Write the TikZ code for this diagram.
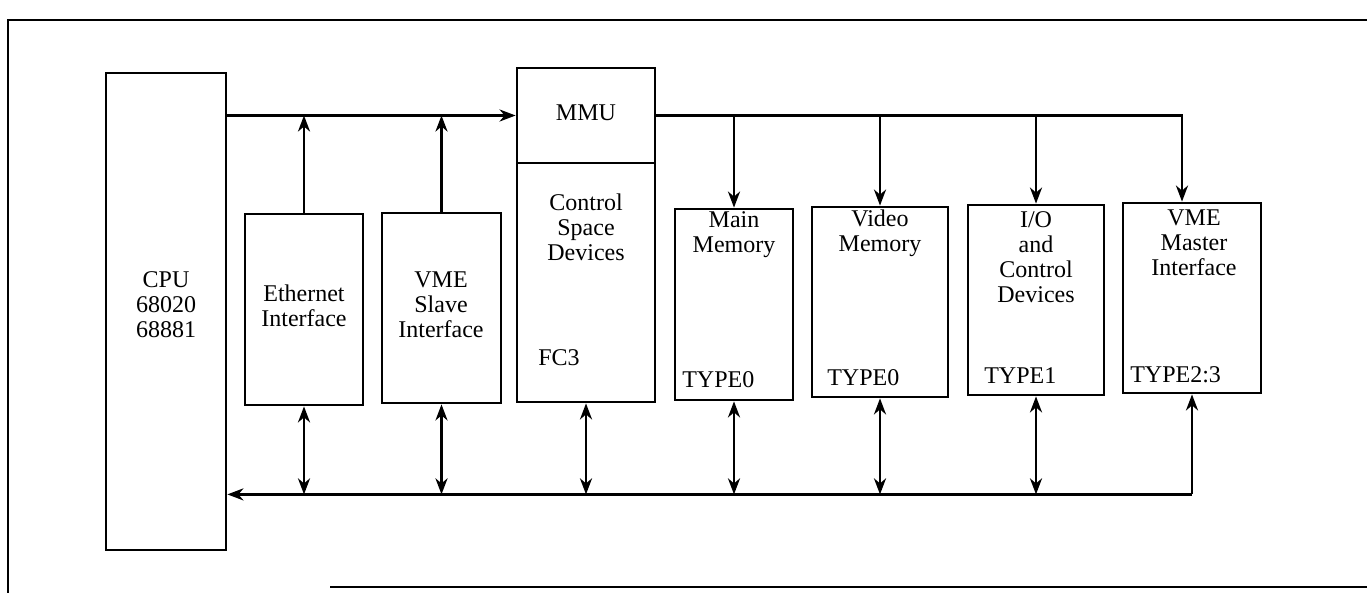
\documentclass[tikz,border=0pt]{standalone}
\usepackage{fontspec}
\setmainfont{Liberation Serif}
\usetikzlibrary{arrows.meta}

\begin{document}
\begin{tikzpicture}[x=0.5pt,y=-0.5pt,line width=1.3pt,
        box/.style={draw,line width=1.4pt,inner sep=0pt},
        lbl/.style={inner sep=0pt,align=center,font=\fontsize{12}{12.5}\selectfont},
        tag/.style={inner sep=0pt,anchor=west,font=\fontsize{12}{12.5}\selectfont},
        arr/.style={-{Stealth[length=8pt,width=6pt,inset=2.5pt]}},
        darr/.style={{Stealth[length=8pt,width=6pt,inset=2.5pt]}-{Stealth[length=8pt,width=6pt,inset=2.5pt]}}]
        \useasboundingbox (0,0) rectangle (1367,593);
        % frame
        \draw (1367,20) -- (8,20) -- (8,593);
        \draw (330,587) -- (1367,587);
        % boxes
        \node[box,minimum width=60pt,minimum height=238.5pt] (cpu) at (166,311.5) {};
        \node[box,minimum width=59pt,minimum height=95.5pt] (eth) at (304,309.5) {};
        \node[box,minimum width=59.5pt,minimum height=95pt] (vsl) at (441.5,308) {};
        \node[box,minimum width=69pt,minimum height=47.5pt] (mmu) at (586,115.5) {};
        \node[box,minimum width=69pt,minimum height=119.5pt] (csd) at (586,282.5) {};
        \node[box,minimum width=59pt,minimum height=95.5pt] (mem) at (734,304.5) {};
        \node[box,minimum width=68pt,minimum height=95pt] (vid) at (880,302) {};
        \node[box,minimum width=68pt,minimum height=95pt] (ioc) at (1036,300) {};
        \node[box,minimum width=69pt,minimum height=95pt] (vmm) at (1192,298) {};
        % texts
        \node[lbl] (cputxt) at (166,305) {CPU\\68020\\68881};
        \node[lbl] (ethtxt) at (304,306) {Ethernet\\Interface};
        \node[lbl] (vsltxt) at (441,305) {VME\\Slave\\Interface};
        \node[lbl] (mmutxt) at (586,113) {MMU};
        \node[lbl] (csdtxt) at (586,227) {Control\\Space\\Devices};
        \node[tag] (fc) at (537,358) {FC3};
        \node[lbl] (memtxt) at (734,235) {Main\\Memory};
        \node[tag] (memtype) at (681,380) {TYPE0};
        \node[lbl] (vidtxt) at (880,233) {Video\\Memory};
        \node[tag] (vidtype) at (826,378) {TYPE0};
        \node[lbl] (ioctxt) at (1036,257) {I/O\\and\\Control\\Devices};
        \node[tag] (ioctype) at (983,376) {TYPE1};
        \node[lbl] (vmmtxt) at (1194,243) {VME\\Master\\Interface};
        \node[tag] (vmmtype) at (1129,375) {TYPE2:3};
        % top buses
        \draw[arr] (cpu.east |- mmu.west) -- (mmu.west);
        \draw[arr] (eth.north) -- (eth.north |- mmu.west);
        \draw[arr] (vsl.north) -- (vsl.north |- mmu.west);
        \coordinate (mtap) at ([xshift=-5pt]vmm.north);
        \draw[arr] (mmu.east) -| (mtap);
        \foreach \n in {mem,vid,ioc}
            \draw[arr] (\n.north |- mmu.east) -- (\n.north);
        % bottom bus
        \coordinate (busR) at ([yshift=-50pt]vmm.south);
        \draw[arr] (busR) -- (vmm.south);
        \draw[arr] (busR) -- (cpu.east |- busR);
        \foreach \n in {eth,vsl,csd,mem,vid,ioc}
            \draw[darr] (\n.south) -- (\n.south |- busR);
\end{tikzpicture}
\end{document}
